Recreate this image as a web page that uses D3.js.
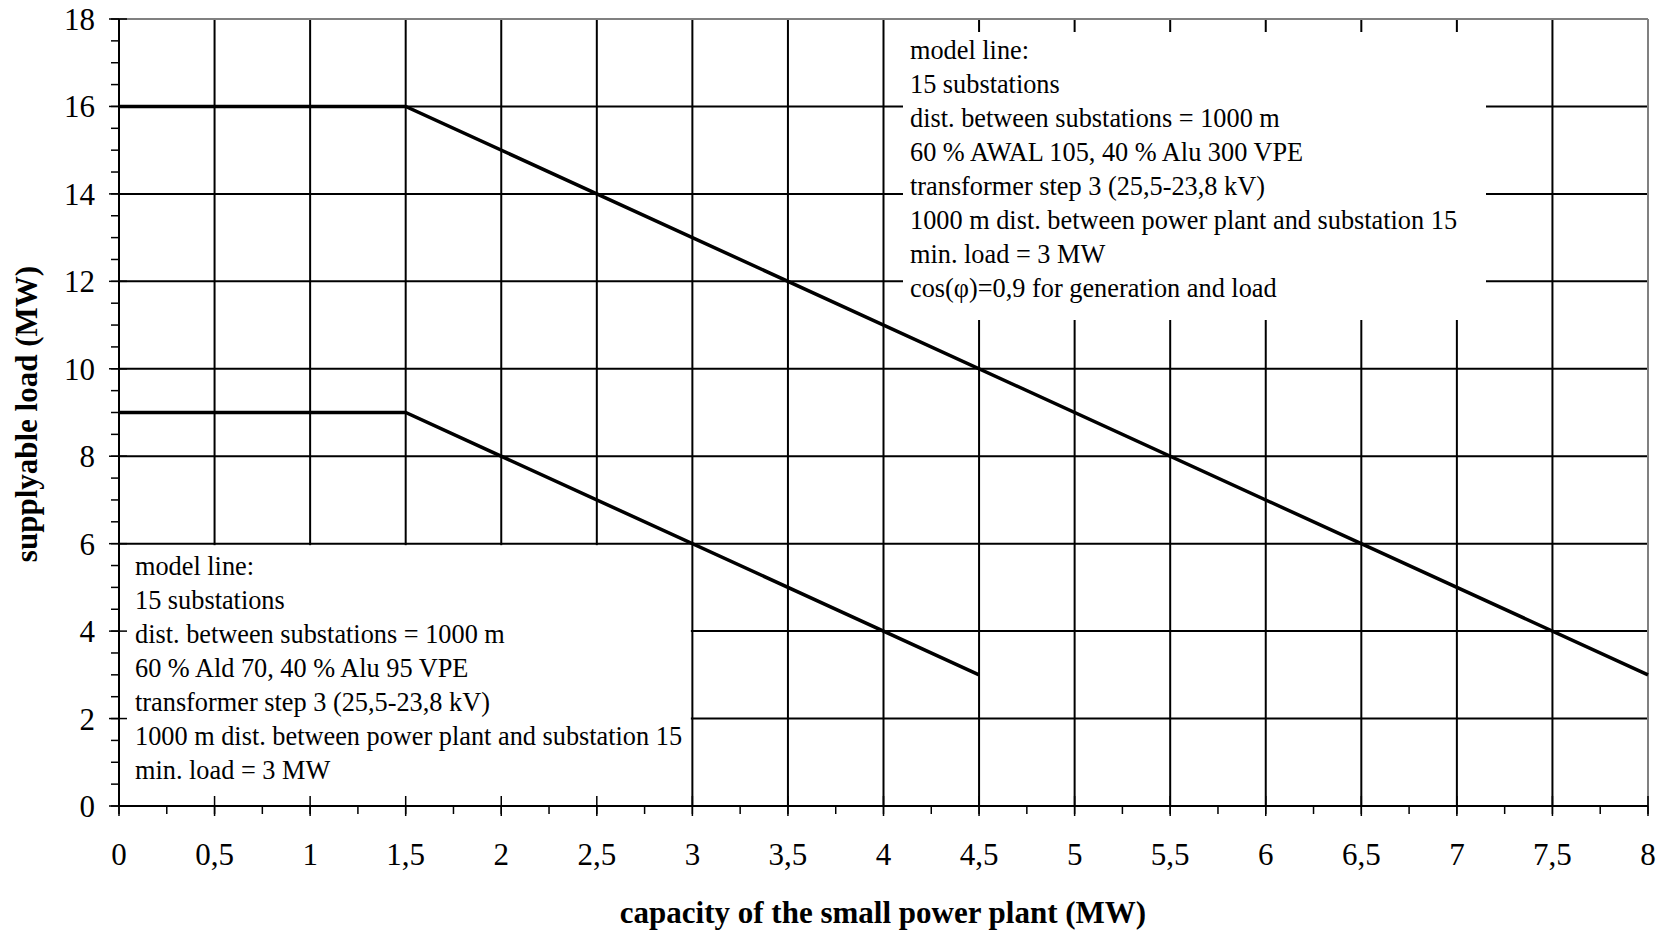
<!DOCTYPE html>
<html><head><meta charset="utf-8">
<script src="https://cdn.jsdelivr.net/npm/d3@7"></script>
<style>body{margin:0;background:#fff}</style>
</head><body>
<svg id="c" width="1662" height="934"></svg>
<script>
// ---- data ----
const xTickValues = [0,0.5,1,1.5,2,2.5,3,3.5,4,4.5,5,5.5,6,6.5,7,7.5,8];
const xTickLabels = ["0","0,5","1","1,5","2","2,5","3","3,5","4","4,5","5","5,5","6","6,5","7","7,5","8"];
const yTickValues = [0,2,4,6,8,10,12,14,16,18];
const yTickLabels = ["0","2","4","6","8","10","12","14","16","18"];
const upperX = [0,1.5,8];
const upperY = [16,16,3];
const lowerX = [0,1.5,4.5];
const lowerY = [9,9,3];
const upperNote = ["model line:","15 substations","dist. between substations = 1000 m","60 % AWAL 105, 40 % Alu 300 VPE","transformer step 3 (25,5-23,8 kV)","1000 m dist. between power plant and substation 15","min. load = 3 MW","cos(\u03c6)=0,9 for generation and load"];
const lowerNote = ["model line:","15 substations","dist. between substations = 1000 m","60 % Ald 70, 40 % Alu 95 VPE","transformer step 3 (25,5-23,8 kV)","1000 m dist. between power plant and substation 15","min. load = 3 MW"];
const xTitle = "capacity of the small power plant (MW)";
const yTitle = "supplyable load (MW)";

// ---- layout ----
const L=119, R=1648, T=19, B=806;
const FONT = "'Liberation Serif','Times New Roman',serif";
const svg = d3.select("#c");
const x = d3.scaleLinear().domain([0,8]).range([L,R]);
const y = d3.scaleLinear().domain([0,18]).range([B,T]);

// gridlines
const g = svg.append("g");
g.selectAll(".vg").data(xTickValues.filter(v=>v>0 && v<8)).join("line")
  .attr("x1",d=>x(d)).attr("x2",d=>x(d)).attr("y1",T).attr("y2",B)
  .attr("stroke","#000").attr("stroke-width",2);
g.selectAll(".hg").data(yTickValues.filter(v=>v>0 && v<18)).join("line")
  .attr("x1",L).attr("x2",R).attr("y1",d=>y(d)).attr("y2",d=>y(d))
  .attr("stroke","#000").attr("stroke-width",2);

// white note boxes
svg.append("rect").attr("x",x(0)+1).attr("y",y(6)+1.5).attr("width",x(3)-x(0)-2.5).attr("height",y(0)-y(6)-2)
  .attr("fill","#fff");
svg.append("rect").attr("x",903).attr("y",32).attr("width",1486-903).attr("height",320-32)
  .attr("fill","#fff");

// frame top/right gray
svg.append("line").attr("x1",L).attr("x2",R).attr("y1",T).attr("y2",T).attr("stroke","#808080").attr("stroke-width",2);
svg.append("line").attr("x1",R).attr("x2",R).attr("y1",T).attr("y2",B).attr("stroke","#808080").attr("stroke-width",2);

// series
const line = d3.line().x(d=>x(d[0])).y(d=>y(d[1]));
svg.append("path").datum(upperX.map((v,i)=>[v,upperY[i]])).attr("d",line)
  .attr("fill","none").attr("stroke","#000").attr("stroke-width",3.5);
svg.append("path").datum(lowerX.map((v,i)=>[v,lowerY[i]])).attr("d",line)
  .attr("fill","none").attr("stroke","#000").attr("stroke-width",3.5);

// axes
const xMinor = d3.range(0,8.001,0.25);
const yMinor = d3.range(0,18.001,0.5);
svg.append("g").selectAll("line").data(xMinor).join("line")
  .attr("x1",d=>x(d)).attr("x2",d=>x(d)).attr("y1",B).attr("y2",B+8).attr("stroke","#000").attr("stroke-width",1.5);
svg.append("g").selectAll("line").data(xTickValues).join("line")
  .attr("x1",d=>x(d)).attr("x2",d=>x(d)).attr("y1",B-10).attr("y2",B+10).attr("stroke","#000").attr("stroke-width",1.5);
svg.append("g").selectAll("line").data(yMinor).join("line")
  .attr("x1",L-8).attr("x2",L).attr("y1",d=>y(d)).attr("y2",d=>y(d)).attr("stroke","#000").attr("stroke-width",1.5);
svg.append("g").selectAll("line").data(yTickValues).join("line")
  .attr("x1",L-10).attr("x2",L+8).attr("y1",d=>y(d)).attr("y2",d=>y(d)).attr("stroke","#000").attr("stroke-width",1.5);
svg.append("line").attr("x1",L).attr("x2",L).attr("y1",T).attr("y2",B).attr("stroke","#000").attr("stroke-width",2);
svg.append("line").attr("x1",L).attr("x2",R).attr("y1",B).attr("y2",B).attr("stroke","#000").attr("stroke-width",2);

// tick labels
svg.append("g").selectAll("text").data(xTickValues).join("text")
  .attr("x",d=>x(d)).attr("y",865).attr("text-anchor","middle")
  .attr("font-family",FONT).attr("font-size",31).text((d,i)=>xTickLabels[i]);
svg.append("g").selectAll("text").data(yTickValues).join("text")
  .attr("x",95).attr("y",d=>y(d)+11).attr("text-anchor","end")
  .attr("font-family",FONT).attr("font-size",31).text((d,i)=>yTickLabels[i]);

// titles
svg.append("text").attr("x",883).attr("y",923).attr("text-anchor","middle")
  .attr("font-family",FONT).attr("font-weight","bold").attr("font-size",31).text(xTitle);
svg.append("text").attr("transform","translate(37,414) rotate(-90)").attr("text-anchor","middle")
  .attr("font-family",FONT).attr("font-weight","bold").attr("font-size",31).text(yTitle);

// notes
svg.append("g").selectAll("text").data(upperNote).join("text")
  .attr("x",910).attr("y",(d,i)=>59+i*34)
  .attr("font-family",FONT).attr("font-size",26.3).text(d=>d);
svg.append("g").selectAll("text").data(lowerNote).join("text")
  .attr("x",135).attr("y",(d,i)=>575+i*34)
  .attr("font-family",FONT).attr("font-size",26.3).text(d=>d);
</script>
</body></html>
